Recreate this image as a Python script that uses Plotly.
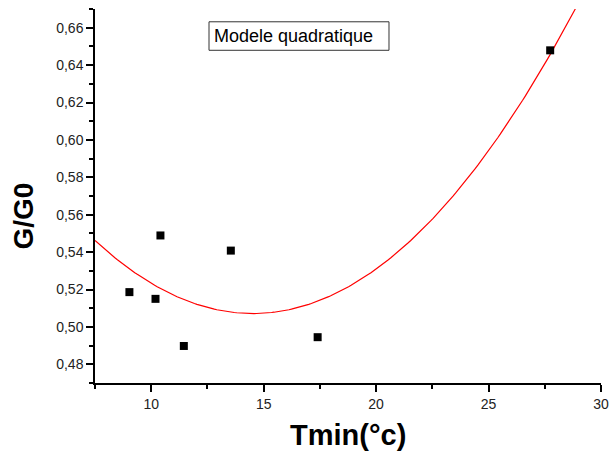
import numpy as np
import plotly.graph_objects as go

# points mesures
tmin = [9.03, 10.19, 10.41, 11.45, 13.54, 17.40, 27.74]
g_g0 = [0.5186, 0.5150, 0.5489, 0.4898, 0.5408, 0.4945, 0.6479]

x_ticks = [10, 15, 20, 25, 30]
y_ticks = [0.48, 0.50, 0.52, 0.54, 0.56, 0.58, 0.60, 0.62, 0.64, 0.66]

# modele quadratique (ajustement moindres carres)
coef = np.polyfit(tmin, g_g0, 2)
xf = np.linspace(7.5, 29.5, 200)
yf = np.polyval(coef, xf)

FONT = "Liberation Sans, Arial"

fig = go.Figure()
fig.add_trace(go.Scatter(x=xf, y=yf, mode="lines",
                         line=dict(color="#ff0000", width=1.2), showlegend=False))
fig.add_trace(go.Scatter(x=tmin, y=g_g0, mode="markers",
                         marker=dict(symbol="square", size=8, color="black"),
                         showlegend=False))

# cadre de la legende
fig.add_shape(type="rect", xref="paper", yref="paper",
              x0=0.2253, x1=0.581, y0=0.8896, y1=0.9658,
              line=dict(color="#333", width=1), fillcolor="white", layer="above")
fig.add_annotation(x=0.2312, y=0.9278, xref="paper", yref="paper",
                   text="Modele quadratique", showarrow=False,
                   xanchor="left", yanchor="middle",
                   font=dict(family=FONT, size=18, color="black"))

# titres des axes
fig.add_annotation(x=0.5, y=-0.139, xref="paper", yref="paper",
                   text="<b>Tmin(°c)</b>", showarrow=False,
                   xanchor="center", yanchor="middle",
                   font=dict(family=FONT, size=29, color="black"))
fig.add_annotation(x=-0.141, y=0.447, xref="paper", yref="paper",
                   text="<b>G/G0</b>", showarrow=False, textangle=-90,
                   xanchor="center", yanchor="middle",
                   font=dict(family=FONT, size=28, color="black"))

axis_common = dict(showline=True, linecolor="black", linewidth=1.5, mirror=False,
                   showgrid=False, zeroline=False, ticks="outside", ticklen=7,
                   tickwidth=1.5, tickcolor="black", automargin=False,
                   tickfont=dict(family=FONT, size=14, color="#222"))

fig.update_layout(
    width=609, height=458,
    margin=dict(l=95, r=8, t=9, b=75),
    paper_bgcolor="white", plot_bgcolor="white",
    separators=",.",
    xaxis=dict(range=[7.5, 30], tickvals=x_ticks,
               minor=dict(dtick=2.5, tick0=7.5, ticks="outside", ticklen=4, tickcolor="black"),
               **axis_common),
    yaxis=dict(range=[0.47, 0.67], tickvals=y_ticks, tickformat=".2f",
               minor=dict(dtick=0.01, tick0=0.47, ticks="outside", ticklen=4, tickcolor="black"),
               **axis_common),
)

# pas de marge de page autour de la figure
fig.write_html("out.html", config={"displayModeBar": False},
               post_script="document.body.style.margin='0';document.body.style.overflow='hidden';")
